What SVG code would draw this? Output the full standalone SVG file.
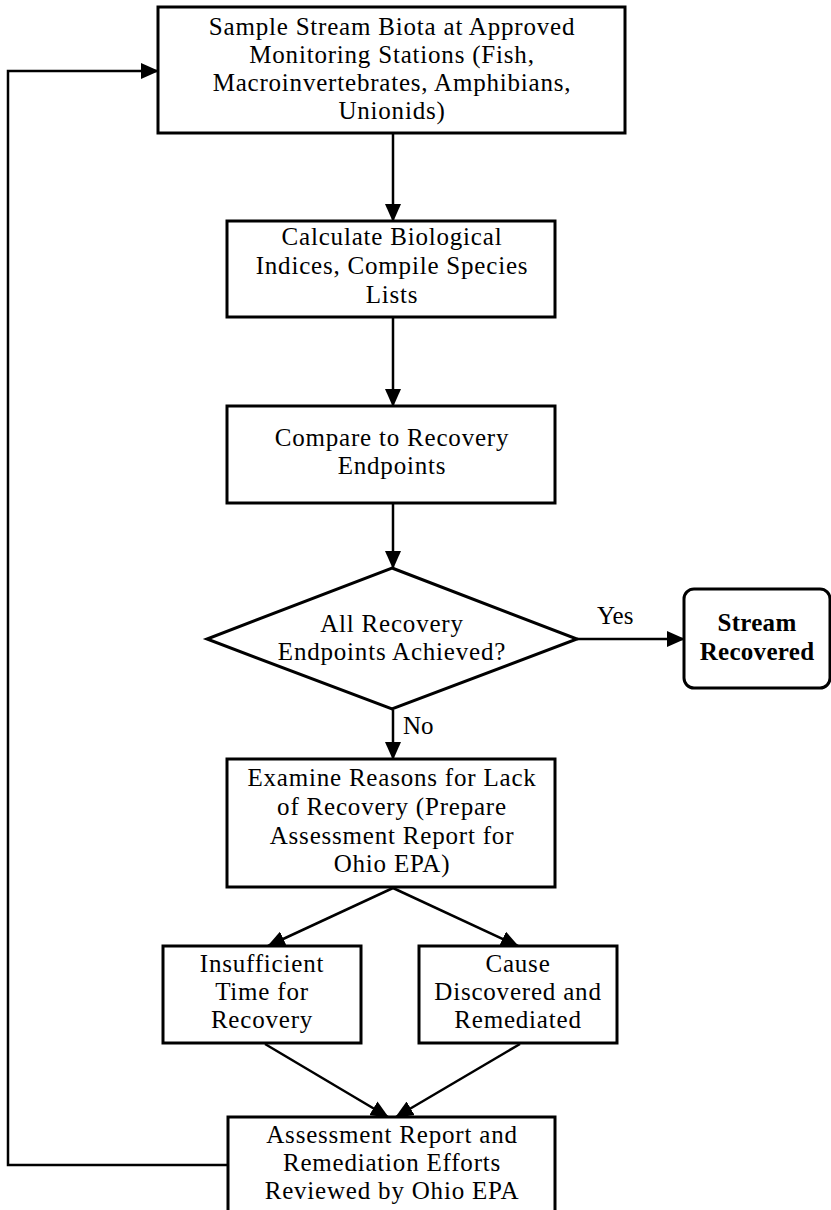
<svg xmlns="http://www.w3.org/2000/svg" width="831" height="1210" viewBox="0 0 831 1210">
<style>
.box{fill:#fff;stroke:#000;stroke-width:3}
.t{font-family:"Liberation Serif","Times New Roman",serif;font-size:25px;letter-spacing:0.8px;fill:#000;text-anchor:middle}
.b{font-weight:bold;letter-spacing:0.3px}
.lbl{font-family:"Liberation Serif","Times New Roman",serif;font-size:25px;fill:#000}
.c{fill:none;stroke:#000;stroke-width:2.5;marker-end:url(#ah)}
</style>
<defs>
<marker id="ah" markerUnits="userSpaceOnUse" markerWidth="18" markerHeight="16" refX="17" refY="8" orient="auto">
<path d="M0,0 L18,8 L0,16 z" fill="#000"/>
</marker>
</defs>
<rect width="831" height="1210" fill="#fff"/>
<g id="connectors">
<line class="c" x1="393" y1="133" x2="393" y2="221"/>
<line class="c" x1="393" y1="318" x2="393" y2="406"/>
<line class="c" x1="393" y1="504" x2="393" y2="568"/>
<line class="c" x1="577" y1="639" x2="684" y2="639"/>
<line class="c" x1="393" y1="710" x2="393" y2="759"/>
<line class="c" x1="393" y1="888" x2="268" y2="946"/>
<line class="c" x1="393" y1="888" x2="518" y2="946"/>
<line class="c" x1="265" y1="1044" x2="388" y2="1117"/>
<line class="c" x1="520" y1="1044" x2="396" y2="1117"/>
<polyline class="c" points="228,1165 8,1165 8,71 158,71"/>
<text class="lbl" x="597" y="624">Yes</text>
<text class="lbl" x="403" y="734">No</text>
</g>
<g id="sample">
<rect class="box" x="158" y="7" width="467" height="126"/>
<text class="t" x="392" y="35">Sample Stream Biota at Approved</text>
<text class="t" x="392" y="63">Monitoring Stations (Fish,</text>
<text class="t" x="392" y="91">Macroinvertebrates, Amphibians,</text>
<text class="t" x="392" y="119">Unionids)</text>
</g>
<g id="calculate">
<rect class="box" x="227" y="221" width="328" height="96"/>
<text class="t" x="392" y="245">Calculate Biological</text>
<text class="t" x="392" y="274">Indices, Compile Species</text>
<text class="t" x="392" y="303">Lists</text>
</g>
<g id="compare">
<rect class="box" x="227" y="406" width="328" height="97"/>
<text class="t" x="392" y="446">Compare to Recovery</text>
<text class="t" x="392" y="474">Endpoints</text>
</g>
<g id="decision">
<polygon class="box" points="392,568 577,639 392,709 207,639"/>
<text class="t" x="392" y="632">All Recovery</text>
<text class="t" x="392" y="660">Endpoints Achieved?</text>
</g>
<g id="recovered">
<rect class="box" x="684" y="589" width="146" height="99" rx="10"/>
<text class="t b" x="757" y="631">Stream</text>
<text class="t b" x="757" y="660">Recovered</text>
</g>
<g id="examine">
<rect class="box" x="227" y="759" width="328" height="128"/>
<text class="t" x="392" y="786">Examine Reasons for Lack</text>
<text class="t" x="392" y="815">of Recovery (Prepare</text>
<text class="t" x="392" y="844">Assessment Report for</text>
<text class="t" x="392" y="872">Ohio EPA)</text>
</g>
<g id="insufficient">
<rect class="box" x="163" y="946" width="198" height="97"/>
<text class="t" x="262" y="972">Insufficient</text>
<text class="t" x="262" y="1000">Time for</text>
<text class="t" x="262" y="1028">Recovery</text>
</g>
<g id="cause">
<rect class="box" x="419" y="946" width="198" height="97"/>
<text class="t" x="518" y="972">Cause</text>
<text class="t" x="518" y="1000">Discovered and</text>
<text class="t" x="518" y="1028">Remediated</text>
</g>
<g id="reviewed">
<rect class="box" x="228" y="1117" width="327" height="100"/>
<text class="t" x="392" y="1143">Assessment Report and</text>
<text class="t" x="392" y="1171">Remediation Efforts</text>
<text class="t" x="392" y="1199">Reviewed by Ohio EPA</text>
</g>
</svg>
